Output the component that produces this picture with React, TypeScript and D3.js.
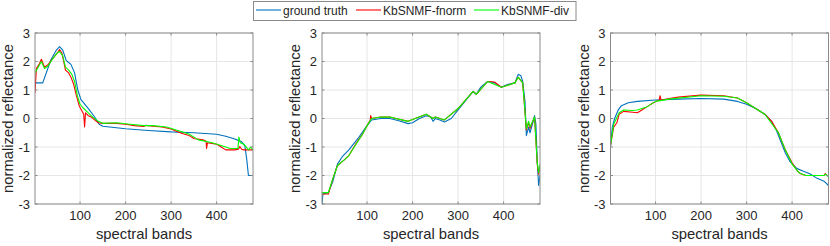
import * as d3 from "d3";
import React, { useEffect, useRef } from "react";

// [band, normalized reflectance]
const p1Truth: [number, number][] = [
  [1, 1.25], [18, 1.25], [36, 2.06], [48, 2.4], [55, 2.52], [62, 2.4], [69, 2.06], [72, 2.0],
  [80, 1.9], [88, 1.6], [95, 1.0], [102, 0.66], [117, 0.37], [131, 0.08], [142, -0.2],
  [150, -0.27], [200, -0.36], [250, -0.42], [300, -0.47], [350, -0.5], [400, -0.55],
  [420, -0.62], [440, -0.72], [455, -0.82], [462, -0.95], [466, -1.4], [470, -2.0], [480, -2.0],
];
const p1Fnorm: [number, number][] = [
  [1, 0.9], [4, 1.75], [10, 1.9], [15, 2.08], [22, 1.8], [30, 1.9], [40, 2.1], [50, 2.3],
  [55, 2.42], [60, 2.3], [68, 1.7], [75, 1.6], [80, 1.45], [86, 1.2], [92, 0.8], [98, 0.45],
  [103, 0.3], [108, 0.15], [110, -0.3], [112, 0.2], [118, 0.1], [125, 0.05], [132, -0.05],
  [140, -0.15], [150, -0.17], [180, -0.17], [200, -0.2], [220, -0.25], [240, -0.28],
  [245, -0.24], [260, -0.27], [280, -0.3], [300, -0.37], [320, -0.5], [330, -0.55],
  [340, -0.6], [350, -0.7], [370, -0.75], [377, -0.8], [378, -1.05], [380, -0.85],
  [400, -0.9], [410, -1.0], [420, -1.1], [440, -1.1], [448, -1.08], [451, -0.98],
  [455, -1.08], [460, -1.1], [480, -1.1],
];
const p1Div: [number, number][] = [
  [1, 1.6], [8, 1.8], [15, 2.0], [22, 1.75], [30, 1.85], [40, 2.1], [50, 2.3], [55, 2.35],
  [62, 2.2], [68, 1.8], [75, 1.7], [82, 1.55], [88, 1.3], [94, 0.8], [100, 0.5], [108, 0.35],
  [118, 0.2], [128, 0.05], [140, -0.1], [150, -0.17], [180, -0.15], [210, -0.2],
  [240, -0.25], [260, -0.25], [290, -0.3], [320, -0.45], [340, -0.55], [360, -0.75],
  [390, -0.85], [410, -0.95], [430, -1.05], [447, -1.05], [449, -0.65], [452, -0.85],
  [460, -0.9], [470, -1.1], [475, -1.0], [480, -1.1],
];

const p2Truth: [number, number][] = [
  [1, -3.0], [3, -2.65], [15, -2.6], [25, -2.2], [35, -1.6], [45, -1.35], [60, -1.1],
  [80, -0.7], [100, -0.25], [110, -0.05], [130, 0.0], [150, 0.0], [170, -0.08],
  [190, -0.18], [200, -0.15], [215, 0.0], [230, 0.1], [240, 0.05], [245, -0.1], [250, 0.0],
  [260, -0.05], [270, -0.12], [285, 0.0], [300, 0.3], [320, 0.7], [333, 0.95], [340, 0.85],
  [350, 1.1], [365, 1.3], [380, 1.25], [395, 1.1], [410, 1.2], [425, 1.25], [432, 1.55],
  [438, 1.5], [442, 1.3], [447, 0.6], [450, -0.6], [455, -0.3], [458, -0.5], [465, -0.1],
  [468, 0.1], [471, -0.2], [474, -1.5], [477, -2.35], [480, -2.0],
];
const p2Fnorm: [number, number][] = [
  [1, -2.65], [15, -2.65], [25, -2.1], [35, -1.65], [50, -1.45], [60, -1.3], [75, -0.9],
  [90, -0.55], [100, -0.25], [107, -0.05], [108, 0.1], [110, 0.0], [130, 0.05], [150, 0.05],
  [190, -0.1], [230, 0.15], [245, 0.0], [250, 0.05], [270, -0.05], [300, 0.35], [333, 0.95],
  [340, 0.85], [365, 1.3], [380, 1.28], [395, 1.1], [425, 1.25], [432, 1.45], [442, 1.25],
  [450, -0.4], [455, -0.15], [458, -0.35], [468, 0.05], [474, -1.6], [477, -1.95], [480, -1.7],
];
const p2Div: [number, number][] = [
  [1, -2.6], [15, -2.6], [25, -2.1], [35, -1.65], [50, -1.45], [60, -1.3], [75, -0.92],
  [90, -0.55], [100, -0.25], [110, 0.0], [130, 0.05], [150, 0.05], [190, -0.1], [230, 0.15],
  [245, 0.0], [250, 0.05], [270, -0.05], [300, 0.35], [333, 0.95], [340, 0.85], [365, 1.3],
  [395, 1.1], [425, 1.25], [432, 1.45], [442, 1.25], [450, -0.35], [455, -0.1], [458, -0.3],
  [468, 0.05], [474, -1.55], [477, -1.9], [480, -1.6],
];

const p3Truth: [number, number][] = [
  [1, -1.0], [5, -0.3], [10, 0.0], [18, 0.3], [25, 0.45], [40, 0.55], [60, 0.6], [100, 0.65],
  [150, 0.68], [200, 0.7], [250, 0.68], [280, 0.6], [300, 0.5], [320, 0.35], [340, 0.15],
  [355, -0.1], [365, -0.4], [375, -0.8], [385, -1.2], [395, -1.5], [410, -1.75],
  [425, -1.85], [440, -1.95], [455, -2.1], [470, -2.2], [480, -2.35],
];
const p3Fnorm: [number, number][] = [
  [1, -0.95], [8, -0.3], [15, -0.15], [20, 0.15], [30, 0.25], [50, 0.22], [60, 0.2],
  [70, 0.3], [80, 0.4], [95, 0.55], [108, 0.65], [110, 0.8], [112, 0.65], [130, 0.7],
  [150, 0.75], [200, 0.82], [250, 0.8], [280, 0.72], [300, 0.55], [320, 0.35], [340, 0.15],
  [355, -0.1], [370, -0.5], [385, -1.1], [400, -1.55], [412, -1.85], [420, -1.95],
  [430, -2.0], [470, -2.0], [473, -1.93], [476, -2.0], [480, -2.0],
];
const p3Div: [number, number][] = [
  [1, -0.95], [8, -0.2], [20, 0.2], [30, 0.3], [50, 0.28], [60, 0.3], [80, 0.4], [100, 0.6],
  [130, 0.68], [200, 0.8], [250, 0.78], [280, 0.72], [300, 0.55], [340, 0.15], [370, -0.5],
  [385, -1.1], [400, -1.6], [415, -1.9], [430, -2.0], [470, -2.0], [474, -1.95], [480, -2.05],
];

const panels = [
  { left: 35, series: [p1Truth, p1Fnorm, p1Div] },
  { left: 322, series: [p2Truth, p2Fnorm, p2Div] },
  { left: 610.5, series: [p3Truth, p3Fnorm, p3Div] },
];

const seriesNames = ["ground truth", "KbSNMF-fnorm", "KbSNMF-div"];
const seriesColors = ["#0072BD", "#FF0000", "#00FF00"];
const xTicks = [100, 200, 300, 400];
const yTicks = [-3, -2, -1, 0, 1, 2, 3];

const W = 830, H = 246;
const plotW = 218, top = 33, bottom = 204;
const font = "'Liberation Sans', Arial, sans-serif";

export default function App() {
  const ref = useRef<SVGSVGElement>(null);

  useEffect(() => {
    const svg = d3.select(ref.current);
    svg.selectAll("*").remove();

    panels.forEach((p, i) => {
      const x = d3.scaleLinear().domain([1, 480]).range([p.left, p.left + plotW]);
      const y = d3.scaleLinear().domain([-3, 3]).range([bottom, top]);
      const g = svg.append("g");

      g.append("rect")
        .attr("x", p.left).attr("y", top)
        .attr("width", plotW).attr("height", bottom - top)
        .attr("fill", "#fff");

      // grid
      g.selectAll(".gx").data(xTicks).join("line")
        .attr("x1", (d) => x(d)).attr("x2", (d) => x(d))
        .attr("y1", top).attr("y2", bottom)
        .attr("stroke", "#e6e6e6").attr("stroke-width", 1);
      g.selectAll(".gy").data(yTicks).join("line")
        .attr("x1", p.left).attr("x2", p.left + plotW)
        .attr("y1", (d) => y(d)).attr("y2", (d) => y(d))
        .attr("stroke", "#e6e6e6").attr("stroke-width", 1);

      const clipId = "clip" + i;
      svg.append("clipPath").attr("id", clipId)
        .append("rect")
        .attr("x", p.left).attr("y", top)
        .attr("width", plotW).attr("height", bottom - top);

      const line = d3.line<[number, number]>()
        .x((d) => x(d[0]))
        .y((d) => y(d[1]));

      p.series.forEach((s, k) => {
        g.append("path")
          .datum(s)
          .attr("clip-path", `url(#${clipId})`)
          .attr("fill", "none")
          .attr("stroke", seriesColors[k])
          .attr("stroke-width", 1.1)
          .attr("stroke-linejoin", "round")
          .attr("d", line);
      });

      // box
      g.append("rect")
        .attr("x", p.left).attr("y", top)
        .attr("width", plotW).attr("height", bottom - top)
        .attr("fill", "none").attr("stroke", "#8a8a8a").attr("stroke-width", 1);

      // inward ticks
      xTicks.forEach((t) => {
        g.append("line").attr("x1", x(t)).attr("x2", x(t))
          .attr("y1", bottom).attr("y2", bottom - 2.5).attr("stroke", "#8a8a8a");
        g.append("line").attr("x1", x(t)).attr("x2", x(t))
          .attr("y1", top).attr("y2", top + 2.5).attr("stroke", "#8a8a8a");
      });
      yTicks.forEach((t) => {
        g.append("line").attr("x1", p.left).attr("x2", p.left + 2.5)
          .attr("y1", y(t)).attr("y2", y(t)).attr("stroke", "#8a8a8a");
        g.append("line").attr("x1", p.left + plotW).attr("x2", p.left + plotW - 2.5)
          .attr("y1", y(t)).attr("y2", y(t)).attr("stroke", "#8a8a8a");
      });

      g.selectAll(".xl").data(xTicks).join("text")
        .attr("x", (d) => x(d)).attr("y", 220)
        .attr("text-anchor", "middle")
        .attr("font-family", font).attr("font-size", 13).attr("fill", "#262626")
        .text((d) => d);
      g.selectAll(".yl").data(yTicks).join("text")
        .attr("x", p.left - 5).attr("y", (d) => y(d) + 4.5)
        .attr("text-anchor", "end")
        .attr("font-family", font).attr("font-size", 13).attr("fill", "#262626")
        .text((d) => d);

      g.append("text")
        .attr("x", p.left + plotW / 2).attr("y", 239)
        .attr("text-anchor", "middle")
        .attr("font-family", font).attr("font-size", 14.8).attr("fill", "#262626")
        .text("spectral bands");
      g.append("text")
        .attr("transform", `translate(${p.left - 22},${(top + bottom) / 2}) rotate(-90)`)
        .attr("text-anchor", "middle")
        .attr("font-family", font).attr("font-size", 14.8).attr("fill", "#262626")
        .text("normalized reflectance");
    });

    // legend
    const lg = svg.append("g");
    lg.append("rect")
      .attr("x", 253.5).attr("y", 1.5).attr("width", 322.5).attr("height", 19)
      .attr("fill", "#fff").attr("stroke", "#8a8a8a").attr("stroke-width", 1);
    const itemX = [256, 356, 474];
    seriesNames.forEach((n, k) => {
      lg.append("line")
        .attr("x1", itemX[k]).attr("x2", itemX[k] + 25)
        .attr("y1", 10).attr("y2", 10)
        .attr("stroke", seriesColors[k]).attr("stroke-width", 1.1);
      lg.append("text")
        .attr("x", itemX[k] + 27).attr("y", 14.5)
        .attr("font-family", font).attr("font-size", 12).attr("fill", "#262626")
        .text(n);
    });
  }, []);

  return (
    <svg
      ref={ref}
      width={W}
      height={H}
      style={{ position: "absolute", left: 0, top: 0, background: "#fff" }}
    />
  );
}
